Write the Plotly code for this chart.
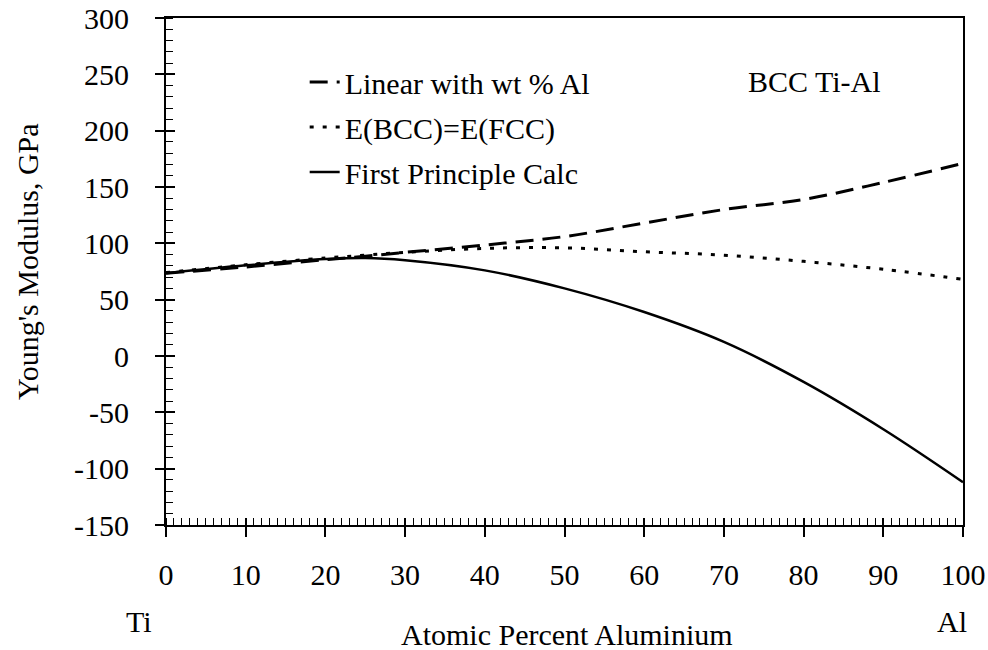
import plotly.graph_objects as go

# ---- data ----
x_pct = [0, 10, 20, 25, 30, 40, 50, 60, 70, 80, 90, 100]
linear_wt = [73.5, 79, 85.5, 88.5, 92, 98.5, 106, 118, 130, 139, 154, 171]
bcc_eq_fcc = [74, 81, 87, 89.5, 92, 95.5, 96, 92.5, 89.5, 84, 77, 68]
first_principle = [73.5, 80.5, 86, 87, 85, 76, 60, 39, 12.5, -23, -65, -112]

series_names = ["Linear with wt % Al", "E(BCC)=E(FCC)", "First Principle Calc"]
x_ticks = [0, 10, 20, 30, 40, 50, 60, 70, 80, 90, 100]
y_ticks = [-150, -100, -50, 0, 50, 100, 150, 200, 250, 300]
y_tick_text = ["-150", "-100", "-50", "0", "50", "100", "150", "200", "250", "300"]

FONT = "Liberation Serif"
FS = 30

fig = go.Figure()
fig.add_trace(go.Scatter(x=x_pct, y=linear_wt, name=series_names[0], mode="lines",
                         line=dict(color="black", width=3, dash="18px,9px", shape="spline"),
                         legendgroup="a"))
fig.add_trace(go.Scatter(x=x_pct, y=bcc_eq_fcc, name=series_names[1], mode="lines",
                         line=dict(color="black", width=3, dash="4px,9px", shape="spline"),
                         legendgroup="b"))
fig.add_trace(go.Scatter(x=x_pct, y=first_principle, name=series_names[2], mode="lines",
                         line=dict(color="black", width=2.5, shape="spline"),
                         legendgroup="c"))
# transparent copy on overlay axes, only to draw the inside half of the major ticks
fig.add_trace(go.Scatter(x=x_pct, y=first_principle, xaxis="x2", yaxis="y2", mode="lines",
                         line=dict(color="rgba(0,0,0,0)"), showlegend=False, hoverinfo="skip"))

fig.update_layout(
    width=988, height=650,
    margin=dict(l=166, r=25, t=18, b=125, autoexpand=False),
    paper_bgcolor="white", plot_bgcolor="white",
    font=dict(family=FONT, size=FS, color="black"),
    showlegend=True,
    legend=dict(x=0.174, y=0.925, xanchor="left", yanchor="top",
                bgcolor="rgba(0,0,0,0)", font=dict(size=FS, family=FONT),
                tracegroupgap=3),
    xaxis=dict(range=[0, 100], tickvals=x_ticks, ticks="outside", ticklen=10, tickwidth=1.5,
               tickcolor="black", showline=True, linecolor="black", linewidth=2, mirror=True,
               showgrid=False, zeroline=False, ticklabelstandoff=12, automargin=False,
               minor=dict(dtick=1, ticks="inside", ticklen=7, tickwidth=1, tickcolor="black"),
               tickfont=dict(size=FS, family=FONT)),
    yaxis=dict(range=[-150, 300], tickvals=y_ticks, ticktext=y_tick_text, ticks="outside",
               ticklen=9, tickwidth=1.5, tickcolor="black", showline=True, linecolor="black",
               linewidth=2, mirror=True, showgrid=False, zeroline=False, ticklabelstandoff=20,
               automargin=False,
               minor=dict(dtick=10, ticks="inside", ticklen=7, tickwidth=1, tickcolor="black"),
               tickfont=dict(size=FS, family=FONT)),
    xaxis2=dict(range=[0, 100], overlaying="x", tickvals=x_ticks, ticks="inside", ticklen=7,
                tickwidth=1.5, tickcolor="black", showticklabels=False, showline=False,
                showgrid=False, zeroline=False, automargin=False),
    yaxis2=dict(range=[-150, 300], overlaying="y", tickvals=y_ticks, ticks="inside", ticklen=9,
                tickwidth=1.5, tickcolor="black", showticklabels=False, showline=False,
                showgrid=False, zeroline=False, automargin=False),
    annotations=[
        dict(text="BCC Ti-Al", xref="paper", yref="paper", x=(814 - 166) / 797,
             y=(525 - 82) / 507, showarrow=False, font=dict(size=FS, family=FONT),
             xanchor="center", yanchor="middle"),
        dict(text="Ti", xref="paper", yref="paper", x=(139 - 166) / 797, y=(525 - 621) / 507,
             showarrow=False, font=dict(size=FS, family=FONT), xanchor="center",
             yanchor="middle"),
        dict(text="Al", xref="paper", yref="paper", x=(952 - 166) / 797, y=(525 - 621) / 507,
             showarrow=False, font=dict(size=FS, family=FONT), xanchor="center",
             yanchor="middle"),
        dict(text="Atomic Percent Aluminium", xref="paper", yref="paper",
             x=(567 - 166) / 797, y=(525 - 634) / 507, showarrow=False,
             font=dict(size=FS, family=FONT), xanchor="center", yanchor="middle"),
        dict(text="Young's Modulus, GPa", xref="paper", yref="paper",
             x=(27 - 166) / 797, y=(525 - 262) / 507, showarrow=False,
             font=dict(size=FS, family=FONT), textangle=-90, xanchor="center",
             yanchor="middle"),
    ],
)

fig.write_html("out.html", config={"displayModeBar": False},
               post_script="document.body.style.margin='0';")
